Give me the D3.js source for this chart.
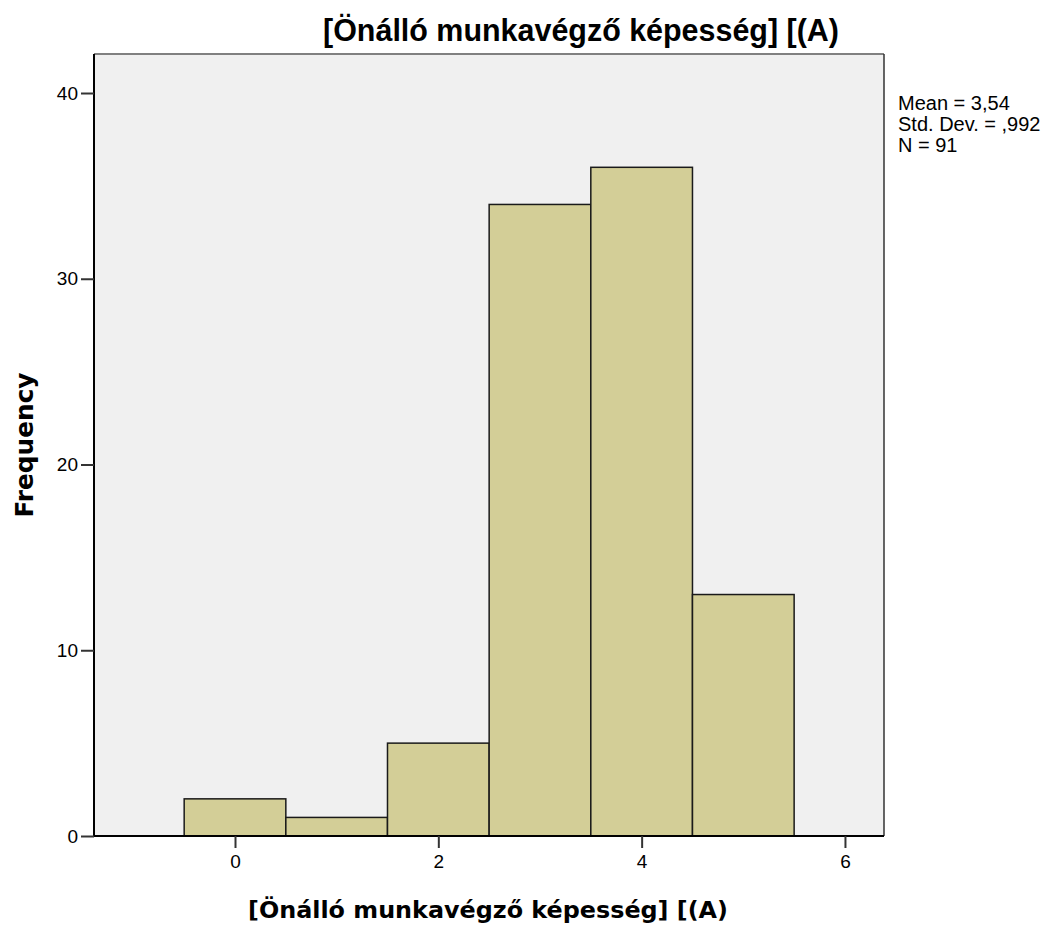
<!DOCTYPE html>
<html>
<head>
<meta charset="utf-8">
<script src="https://cdn.jsdelivr.net/npm/d3@7"></script>
<style>
  body { margin: 0; background: #fff; }
  svg { display: block; }
</style>
</head>
<body>
<svg id="chart" width="1051" height="928"></svg>
<script>
// Data
const binStarts = [-0.5, 0.5, 1.5, 2.5, 3.5, 4.5];
const binEnds   = [0.5, 1.5, 2.5, 3.5, 4.5, 5.5];
const frequencies = [2, 1, 5, 34, 36, 13];
const xTicks = [0, 2, 4, 6];
const yTicks = [0, 10, 20, 30, 40];
const statsLines = ["Mean = 3,54", "Std. Dev. = ,992", "N = 91"];
const titleText = "[Önálló munkavégző képesség] [(A)";
const xLabelText = "[Önálló munkavégző képesség] [(A)";
const yLabelText = "Frequency";

const svg = d3.select("#chart");
const plot = { left: 94, right: 884, top: 54, bottom: 836 };

const x = d3.scaleLinear().domain([-1.387, 6.384]).range([plot.left, plot.right]);
const y = d3.scaleLinear().domain([0, 42.1]).range([plot.bottom, plot.top]);

function fitWidth(sel, target) {
  const w = sel.node().getComputedTextLength();
  const fs = +sel.attr("font-size");
  sel.attr("font-size", (fs * target / w).toFixed(2));
}

// background
svg.append("rect")
  .attr("x", plot.left).attr("y", plot.top)
  .attr("width", plot.right - plot.left).attr("height", plot.bottom - plot.top)
  .attr("fill", "#f0f0f0");

// bars
const bins = frequencies.map((f, i) => ({ x0: binStarts[i], x1: binEnds[i], f }));
svg.append("g").selectAll("rect").data(bins).join("rect")
  .attr("x", d => x(d.x0))
  .attr("y", d => y(d.f))
  .attr("width", d => x(d.x1) - x(d.x0))
  .attr("height", d => y(0) - y(d.f))
  .attr("fill", "#d3ce97")
  .attr("stroke", "#1a1a1a")
  .attr("stroke-width", 1.5);

// frame: top and right
svg.append("line").attr("x1", plot.left).attr("x2", plot.right).attr("y1", plot.top).attr("y2", plot.top)
  .attr("stroke", "#808080").attr("stroke-width", 2);
svg.append("line").attr("x1", plot.right).attr("x2", plot.right).attr("y1", plot.top).attr("y2", plot.bottom)
  .attr("stroke", "#333").attr("stroke-width", 1.5);

// axes
const tickFont = "Liberation Sans, Arial, sans-serif";
const xAxis = d3.axisBottom(x).tickValues(xTicks).tickSize(12).tickPadding(7).tickFormat(d3.format("d"));
const yAxis = d3.axisLeft(y).tickValues(yTicks).tickSize(13).tickPadding(3).tickFormat(d3.format("d"));

const gx = svg.append("g").attr("transform", `translate(0,${plot.bottom})`).call(xAxis);
gx.select(".domain").attr("stroke", "#000").attr("stroke-width", 2).attr("d", `M${plot.left},0H${plot.right}`);
gx.selectAll(".tick line").attr("stroke", "#333").attr("stroke-width", 2);
gx.selectAll(".tick text").attr("font-family", tickFont).attr("font-size", 19).attr("fill", "#000");

const gy = svg.append("g").attr("transform", `translate(${plot.left},0)`).call(yAxis);
gy.select(".domain").attr("stroke", "#000").attr("stroke-width", 2).attr("d", `M0,${plot.bottom}V${plot.top}`);
gy.selectAll(".tick line").attr("stroke", "#333").attr("stroke-width", 2);
gy.selectAll(".tick text").attr("font-family", tickFont).attr("font-size", 19).attr("fill", "#000");

// title
const title = svg.append("text")
  .attr("x", 581).attr("y", 41)
  .attr("text-anchor", "middle")
  .attr("font-family", "Liberation Sans, Arial, sans-serif")
  .attr("font-weight", "bold")
  .attr("font-size", 24)
  .text(titleText);
fitWidth(title, 516);

// x label
const xl = svg.append("text")
  .attr("x", 488).attr("y", 918)
  .attr("text-anchor", "middle")
  .attr("font-family", "DejaVu Sans, Verdana, sans-serif")
  .attr("font-weight", "bold")
  .attr("font-size", 24)
  .text(xLabelText);
fitWidth(xl, 480);

// y label
const yl = svg.append("text")
  .attr("transform", `translate(33,${(plot.top + plot.bottom) / 2}) rotate(-90)`)
  .attr("text-anchor", "middle")
  .attr("font-family", "DejaVu Sans, Verdana, sans-serif")
  .attr("font-weight", "bold")
  .attr("font-size", 24)
  .text(yLabelText);
fitWidth(yl, 145);

// stats
const st = svg.append("text")
  .attr("font-family", "Liberation Sans, Arial, sans-serif")
  .attr("font-size", 20)
  .attr("fill", "#000");
statsLines.forEach((t, i) => {
  st.append("tspan").attr("x", 898).attr("y", 110 + i * 21).text(t);
});
</script>
</body>
</html>
